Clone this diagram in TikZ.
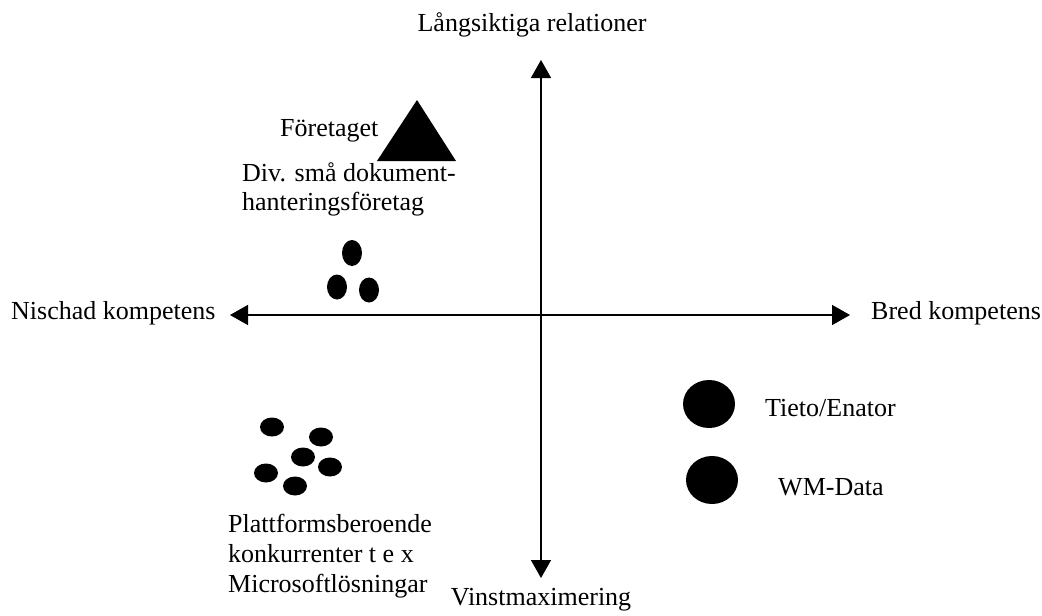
\documentclass[tikz,border=0pt]{standalone}
\usepackage{fontspec}
\setmainfont{Liberation Serif}
\usetikzlibrary{arrows.meta}
\begin{document}
\begin{tikzpicture}[x=1pt,y=-1pt,
  lbl/.style={inner sep=0pt, font=\fontsize{26}{30}\selectfont},
  axis/.style={line width=1.5pt, {Triangle[width=20pt,length=18pt]}-{Triangle[width=20pt,length=18pt]}},
  dot/.style={fill=black, draw=none}]
\useasboundingbox (0,0) rectangle (1042,616);
% axes
\coordinate (top) at (541,60);
\coordinate (bottom) at (541,578);
\coordinate (left) at (230,315);
\coordinate (right) at (850,315);
\draw[axis] (bottom) -- (top);
\draw[axis] (left) -- (right);
% axis labels
\node[lbl] (ltop) at (532,25) {Långsiktiga relationer};
\node[lbl] (lbot) at (541,600) {Vinstmaximering};
\node[lbl, anchor=west] (lleft) at (11,313) {Nischad kompetens};
\node[lbl, anchor=west] (lright) at (871,313) {Bred kompetens};
% the company
\fill (417,100) -- (456,161) -- (377,161) -- cycle;
\node[lbl, anchor=west] (comp) at (280,131) {Företaget};
\node[lbl, anchor=north west, align=left] (small) at (242,162)
  {Div. små dokument-\\[-1pt]hanteringsföretag};
\fill[dot] (352,253) ellipse [x radius=10, y radius=13];
\fill[dot] (337,287) ellipse [x radius=10, y radius=12.5];
\fill[dot] (369,290) ellipse [x radius=10, y radius=12.5];
% platform competitors
\fill[dot] (272,427) ellipse [x radius=12, y radius=9.5];
\fill[dot] (321,437) ellipse [x radius=12, y radius=9.5];
\fill[dot] (303,457) ellipse [x radius=12, y radius=9.5];
\fill[dot] (330,467) ellipse [x radius=12, y radius=9.5];
\fill[dot] (266,473) ellipse [x radius=12, y radius=9.5];
\fill[dot] (295,486) ellipse [x radius=12, y radius=9.5];
\node[lbl, anchor=north west, align=left] (plat) at (228,514)
  {Plattformsberoende\\konkurrenter t e x\\Microsoftlösningar};
% large firms
\fill[dot] (709,404) ellipse [x radius=26, y radius=24];
\fill[dot] (712,480) ellipse [x radius=26, y radius=24];
\node[lbl, anchor=west] (tieto) at (765,408) {Tieto/Enator};
\node[lbl, anchor=west] (wm) at (778,487) {WM-Data};
\end{tikzpicture}
\end{document}
